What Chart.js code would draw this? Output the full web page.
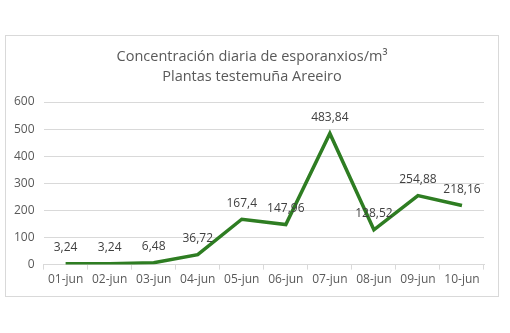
<!DOCTYPE html>
<html>
<head>
<meta charset="utf-8">
<script src="https://cdn.jsdelivr.net/npm/chart.js@4"></script>
<style>
  html, body { margin: 0; padding: 0; background: #fff; }
  #wrap { position: relative; width: 510px; height: 333px; }
</style>
</head>
<body>
<div id="wrap"><canvas id="chart" width="510" height="333"></canvas></div>
<script>
// datos
const days = ['01-jun', '02-jun', '03-jun', '04-jun', '05-jun', '06-jun', '07-jun', '08-jun', '09-jun', '10-jun'];
const values = [3.24, 3.24, 6.48, 36.72, 167.4, 147.96, 483.84, 128.52, 254.88, 218.16];
const titleLines = ['Concentración diaria de esporanxios/m³', 'Plantas testemuña Areeiro'];

const FONT = "'Open Sans', 'Noto Sans', sans-serif";

// marco y título del gráfico
const framePlugin = {
    id: 'frame',
    beforeDraw(chart) {
        const ctx = chart.ctx;
        ctx.save();
        ctx.fillStyle = '#fff';
        ctx.fillRect(0, 0, chart.width, chart.height);
        ctx.strokeStyle = '#d9d9d9';
        ctx.lineWidth = 1;
        ctx.strokeRect(5.5, 35.5, 493, 261);
        ctx.font = '14.5px ' + FONT;
        ctx.fillStyle = '#595959';
        ctx.textAlign = 'center';
        ctx.textBaseline = 'middle';
        titleLines.forEach((t, i) => ctx.fillText(t, 252, 57 + i * 20));
        ctx.restore();
    }
};

// etiquetas de valor encima de cada punto
const labelPlugin = {
    id: 'valueLabels',
    afterDatasetsDraw(chart) {
        const ctx = chart.ctx;
        const meta = chart.getDatasetMeta(0);
        ctx.save();
        ctx.font = '12px ' + FONT;
        ctx.fillStyle = '#404040';
        ctx.textAlign = 'center';
        ctx.textBaseline = 'middle';
        meta.data.forEach((pt, i) => {
            const txt = String(values[i]).replace('.', ',');
            ctx.fillText(txt, pt.x, pt.y - 16);
        });
        ctx.restore();
    }
};

new Chart(document.getElementById('chart').getContext('2d'), {
    type: 'line',
    data: {
        labels: days,
        datasets: [{
            data: values,
            borderColor: '#2e7d22',
            borderWidth: 3.5,
            pointRadius: 0,
            tension: 0,
            fill: false
        }]
    },
    options: {
        responsive: false,
        animation: false,
        layout: {padding: {left: 5, right: 26, top: 102, bottom: 43}},
        plugins: {
            legend: {display: false},
            tooltip: {enabled: false},
            title: {display: false}
        },
        scales: {
            x: {
                offset: true,
                grid: {display: true, offset: true, drawOnChartArea: false, tickLength: 5, color: '#d9d9d9'},
                border: {color: '#d9d9d9'},
                ticks: {color: '#595959', font: {family: FONT, size: 12}, padding: 3, maxRotation: 0}
            },
            y: {
                min: 0,
                max: 600,
                ticks: {stepSize: 100, color: '#595959', font: {family: FONT, size: 12}, padding: 9},
                grid: {color: '#d9d9d9', drawTicks: false},
                border: {display: false}
            }
        }
    },
    plugins: [framePlugin, labelPlugin]
});
</script>
</body>
</html>
